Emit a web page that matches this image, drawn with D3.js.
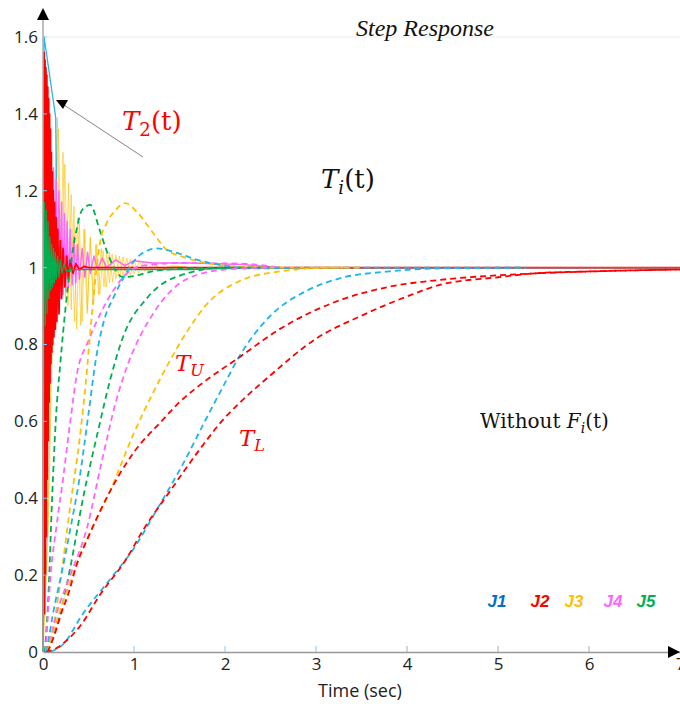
<!DOCTYPE html>
<meta charset="utf-8">
<style>
body{margin:0;background:#fff;}
svg text{font-family:"Open Sans","Liberation Sans",Arial,sans-serif;}
svg text.serif{font-family:"DejaVu Serif","Liberation Serif",serif;}
svg text.title{font-family:"Liberation Serif",serif;}
svg .legend text{font-family:"Liberation Sans",Arial,sans-serif;}
</style>
<svg id="chart" width="680" height="704"></svg>
<script src="https://d3js.org/d3.v7.min.js"></script>
<script>
// tick labels
const xTicks = [0, 1, 2, 3, 4, 5, 6, 7]
const yTicks = [0, 0.2, 0.4, 0.6, 0.8, 1, 1.2, 1.4, 1.6]
const legendNames = ['J1', 'J2', 'J3', 'J4', 'J5']
const legendColors = ['#0070c0', '#ff0000', '#ffc000', '#ff66ff', '#00b050']

// solid responses with F_i(t): [t, y] read at the peaks / troughs
const yellowSolidA = [[0,0],[0.05,0.3],[0.1,0.9],[0.16,1.39],[0.19,0.93],[0.22,1.30],[0.25,0.92],[0.28,1.22],[0.31,0.89],[0.34,1.16],[0.37,0.84],[0.40,1.12],[0.43,0.86],[0.46,1.10],[0.49,0.89],[0.52,1.08],[0.55,0.91],[0.58,1.06],[0.61,0.93],[0.64,1.05],[0.67,0.95],[0.70,1.04],[0.73,0.96],[0.76,1.035],[0.80,0.97],[0.84,1.03],[0.88,0.975],[0.92,1.025],[0.96,0.98],[1.00,1.02],[1.05,0.985],[1.10,1.015],[1.16,0.99],[1.22,1.01],[1.3,0.995],[1.4,1.005],[1.6,1.0],[7,1.0]]
const yellowSolidB = [[0,0],[0.06,0.35],[0.12,1.0],[0.17,1.36],[0.205,0.95],[0.24,1.27],[0.275,0.90],[0.31,1.19],[0.345,0.86],[0.38,1.13],[0.415,0.85],[0.45,1.10],[0.485,0.88],[0.52,1.075],[0.555,0.905],[0.59,1.06],[0.625,0.93],[0.66,1.045],[0.695,0.95],[0.73,1.04],[0.765,0.962],[0.80,1.033],[0.84,0.972],[0.88,1.028],[0.92,0.978],[0.96,1.022],[1.0,0.984],[1.06,1.016],[1.12,0.99],[1.2,1.01],[1.3,0.995],[1.45,1.004],[1.6,1.0],[7,1.0]]
const cyanSolid = [[0,0],[0.012,1.6],[0.14,1.39],[0.16,0.9],[0.18,1.15],[0.2,0.93],[0.23,1.06],[0.27,0.97],[0.32,1.02],[0.4,0.995],[0.5,1.0],[7,1.0]]
const magentaSolid = [[0,0],[0.035,0.9],[0.055,1.33],[0.07,0.9],[0.085,1.3],[0.1,0.88],[0.115,1.26],[0.13,0.9],[0.145,1.23],[0.16,0.91],[0.175,1.2],[0.19,0.92],[0.205,1.17],[0.22,0.93],[0.235,1.14],[0.25,0.94],[0.265,1.12],[0.28,0.95],[0.3,1.1],[0.32,0.955],[0.34,1.08],[0.36,0.96],[0.38,1.06],[0.40,0.97],[0.43,1.05],[0.46,0.975],[0.49,1.04],[0.52,0.985],[0.56,1.03],[0.6,0.995],[0.65,1.025],[0.7,1.0],[0.8,1.02],[0.9,1.005],[1.0,1.018],[1.2,1.012],[1.6,1.012],[2.2,1.008],[2.6,1.0],[7,1.0]]
const redSolid = [[0,0],[0.008,1.2],[0.012,1.56],[0.017,0.1],[0.022,1.54],[0.027,0.2],[0.032,1.52],[0.037,0.3],[0.042,1.5],[0.047,0.45],[0.052,1.47],[0.057,0.55],[0.062,1.44],[0.067,0.65],[0.072,1.4],[0.077,0.7],[0.082,1.36],[0.087,0.75],[0.092,1.3],[0.097,0.78],[0.102,1.25],[0.107,0.8],[0.112,1.2],[0.12,0.82],[0.128,1.17],[0.136,0.84],[0.144,1.13],[0.152,0.86],[0.162,1.1],[0.176,0.88],[0.19,1.07],[0.205,0.92],[0.22,1.05],[0.24,0.95],[0.26,1.03],[0.28,0.97],[0.30,1.02],[0.33,0.985],[0.36,1.01],[0.40,0.995],[0.45,1.003],[0.5,1.0],[7,1.0]]
const greenSolid = [[0,0],[0.008,0.9],[0.015,1.17],[0.025,0.85],[0.035,1.15],[0.045,0.88],[0.055,1.12],[0.065,0.92],[0.075,1.08],[0.085,0.94],[0.095,1.06],[0.105,0.95],[0.115,1.05],[0.125,0.96],[0.135,1.04],[0.145,0.97],[0.16,1.03],[0.175,0.975],[0.19,1.02],[0.21,0.985],[0.23,1.01],[0.26,0.99],[0.3,0.995],[1.6,0.995],[2.3,1.0],[7,1.0]]

// dashed responses without F_i(t)
const greenDashInner = [[0.02,0],[0.06,0.15],[0.1,0.4],[0.14,0.6],[0.19,0.75],[0.25,0.9],[0.3,1.0],[0.37,1.1],[0.43,1.15],[0.52,1.163],[0.62,1.1],[0.69,1.05],[0.78,1.0],[0.88,0.975],[1.0,0.978],[1.2,0.99],[1.5,0.997],[2.0,1.0],[2.6,1.0]]
const magentaDashInner = [[0.03,0],[0.08,0.19],[0.15,0.33],[0.22,0.45],[0.3,0.6],[0.37,0.72],[0.5,0.81],[0.63,0.88],[0.8,0.95],[0.92,0.985],[1.1,1.005],[1.5,1.012],[2.2,1.01],[2.6,1.0]]
const yellowDashInner = [[0.06,0],[0.14,0.1],[0.2,0.2],[0.3,0.38],[0.4,0.55],[0.47,0.7],[0.53,0.86],[0.58,0.98],[0.63,1.07],[0.70,1.116],[0.8,1.15],[0.9,1.168],[1.05,1.14],[1.21,1.09],[1.36,1.046],[1.54,1.028],[1.73,1.015],[2.0,1.005],[2.5,1.0],[3.3,1.0]]
const blueDashInner = [[0.04,0],[0.11,0.1],[0.2,0.2],[0.3,0.32],[0.4,0.45],[0.5,0.62],[0.58,0.76],[0.68,0.87],[0.77,0.92],[0.9,0.98],[1.05,1.03],[1.25,1.05],[1.45,1.04],[1.7,1.02],[2.0,1.005],[2.3,0.998],[3,1.0],[5.3,1.0]]
const greenDashOuter = [[0.05,0],[0.19,0.1],[0.3,0.22],[0.44,0.40],[0.6,0.57],[0.74,0.71],[0.88,0.82],[1.14,0.92],[1.58,0.985],[2.0,1.0],[2.4,1.0]]
const magentaDashOuter = [[0.05,0],[0.15,0.1],[0.3,0.2],[0.48,0.32],[0.65,0.5],[0.8,0.65],[0.92,0.74],[1.21,0.88],[1.58,0.97],[2.0,0.995],[2.5,1.0]]
const yellowDashOuter = [[0.05,0],[0.11,0.05],[0.25,0.15],[0.44,0.27],[0.74,0.42],[1.0,0.57],[1.2,0.67],[1.4,0.76],[1.6,0.84],[1.8,0.905],[2.16,0.965],[2.6,0.99],[3.2,1.0],[3.5,1.0]]
const blueDashOuter = [[0.08,0],[0.22,0.02],[0.44,0.1],[0.74,0.19],[1.0,0.27],[1.25,0.37],[1.54,0.49],[1.8,0.61],[2.0,0.70],[2.16,0.77],[2.5,0.875],[2.9,0.94],[3.26,0.972],[3.8,0.99],[4.36,0.998],[5.3,1.0]]
const redDashUpper = [[0.05,0],[0.12,0.04],[0.2,0.1],[0.29,0.16],[0.36,0.22],[0.5,0.3],[0.74,0.42],[1.0,0.52],[1.3,0.6],[1.5,0.65],[1.8,0.708],[2.16,0.767],[2.6,0.84],[3.0,0.89],[3.26,0.915],[3.8,0.95],[4.36,0.968],[5.0,0.98],[5.5,0.986],[6,0.99],[6.5,0.993],[7,0.995]]
const redDashLower = [[0.03,0],[0.15,0.01],[0.26,0.03],[0.4,0.065],[0.63,0.15],[0.91,0.24],[1.1,0.317],[1.4,0.42],[1.7,0.52],[2.0,0.61],[2.16,0.648],[2.5,0.72],[3.0,0.815],[3.5,0.875],[4.0,0.925],[4.36,0.955],[5.0,0.975],[5.46,0.986],[6.0,0.99],[6.5,0.993],[7,0.995]]

const svg = d3.select('#chart')
const x = d3.scaleLinear().domain([0, 7]).range([43, 680])
const y = d3.scaleLinear().domain([0, 1.6]).range([652, 37])
const line = d3.line().x(d => x(d[0])).y(d => y(d[1]))
const smooth = d3.line().x(d => x(d[0])).y(d => y(d[1])).curve(d3.curveMonotoneX)

// faint top grid line
svg.append('line').attr('x1', 43).attr('x2', 680).attr('y1', y(1.6)).attr('y2', y(1.6))
  .attr('stroke', '#eee').attr('stroke-width', 1)

const curves = [
  {d: yellowSolidA, c: '#ffc000', w: 0.6},
  {d: yellowSolidB, c: '#ffc000', w: 0.6},
  {d: cyanSolid, c: '#2ab4ea', w: 1.3},
  {d: magentaSolid, c: '#ff66ff', w: 1.5},
  {d: redSolid, c: '#ff0000', w: 1.8},
  {d: greenSolid, c: '#00b050', w: 1.2},
  {d: greenDashInner, c: '#00b050', w: 1.8, dash: true},
  {d: magentaDashInner, c: '#ff66ff', w: 1.8, dash: true},
  {d: yellowDashInner, c: '#ffc000', w: 1.8, dash: true},
  {d: blueDashInner, c: '#1fb4ea', w: 1.8, dash: true},
  {d: greenDashOuter, c: '#00b050', w: 1.8, dash: true},
  {d: magentaDashOuter, c: '#ff66ff', w: 1.8, dash: true},
  {d: yellowDashOuter, c: '#ffc000', w: 1.8, dash: true},
  {d: blueDashOuter, c: '#1fb4ea', w: 1.8, dash: true},
  {d: redDashUpper, c: '#ff0000', w: 1.8, dash: true},
  {d: redDashLower, c: '#ff0000', w: 1.8, dash: true}
]

svg.append('g').selectAll('path').data(curves).join('path')
  .attr('d', c => c.dash ? smooth(c.d) : line(c.d))
  .attr('fill', 'none')
  .attr('stroke', c => c.c)
  .attr('stroke-width', c => c.w)
  .attr('stroke-linejoin', 'round')
  .attr('stroke-dasharray', c => c.dash ? '6,4' : null)

// axes
const fmt = d3.format('~g')
const xAxis = svg.append('g').attr('transform', 'translate(0,652)')
  .call(d3.axisBottom(x).tickValues(xTicks).tickFormat(fmt).tickSize(0).tickPadding(6))
xAxis.select('.domain').attr('stroke', '#999').attr('stroke-width', 1.5)
xAxis.selectAll('text').attr('font-size', 17).attr('fill', '#222')
svg.append('g').selectAll('line').data(xTicks.slice(1, 7)).join('line')
  .attr('x1', d => x(d)).attr('x2', d => x(d)).attr('y1', 652).attr('y2', 646)
  .attr('stroke', (d, i) => i < 3 ? '#7fcdee' : '#aaa')

svg.append('line').attr('x1', 43).attr('x2', 43).attr('y1', 652).attr('y2', 18)
  .attr('stroke', '#aaa').attr('stroke-width', 1.5)
const yAxis = svg.append('g').attr('transform', 'translate(43,0)')
  .call(d3.axisLeft(y).tickValues(yTicks).tickFormat(fmt).tickSize(0).tickPadding(5))
yAxis.select('.domain').remove()
yAxis.selectAll('text').attr('font-size', 17).attr('fill', '#222')
svg.append('g').selectAll('line').data(yTicks.slice(1)).join('line')
  .attr('x1', 43).attr('x2', 47).attr('y1', d => y(d)).attr('y2', d => y(d))
  .attr('stroke', '#7fcdee')

// arrow heads on the axes
svg.append('path').attr('d', 'M37,20 L49,20 L43,8 Z').attr('fill', '#000')
svg.append('path').attr('d', 'M668,646 L668,658 L680,652 Z').attr('fill', '#000')

svg.append('text').attr('x', 360).attr('y', 697).attr('text-anchor', 'middle')
  .attr('font-size', 18).attr('fill', '#222').text('Time (sec)')

// pointer to T2(t)
svg.append('line').attr('x1', 143).attr('y1', 157).attr('x2', 64).attr('y2', 105)
  .attr('stroke', '#666').attr('stroke-width', 0.8)
svg.append('path').attr('d', 'M56,100 L68,100 L63,109 Z').attr('fill', '#000')

// annotations
svg.append('text').attr('class', 'title').attr('x', 425).attr('y', 36).attr('text-anchor', 'middle')
  .attr('font-size', 24).attr('font-style', 'italic').attr('fill', '#111').text('Step Response')

function mathLabel(px, py, main, sub, tail, color, size) {
  const t = svg.append('text').attr('class', 'serif').attr('x', px).attr('y', py)
    .attr('font-size', size).attr('fill', color)
  t.append('tspan').attr('font-style', 'italic').text(main)
  t.append('tspan').attr('font-size', size * 0.7).attr('dy', size * 0.22)
    .attr('font-style', /\d/.test(sub) ? 'normal' : 'italic').text(sub)
  if (tail) t.append('tspan').attr('dy', -size * 0.22).text(tail)
  return t
}
mathLabel(122, 130, 'T', '2', '(t)', '#ff0000', 26)
mathLabel(321, 188, 'T', 'i', '(t)', '#111', 26)
mathLabel(175, 371, 'T', 'U', null, '#ff0000', 23)
mathLabel(239, 446, 'T', 'L', null, '#ff0000', 23)

const wo = svg.append('text').attr('class', 'serif').attr('x', 480).attr('y', 428)
  .attr('font-size', 20).attr('fill', '#111')
wo.append('tspan').text('Without ')
wo.append('tspan').attr('font-style', 'italic').text('F')
wo.append('tspan').attr('font-style', 'italic').attr('font-size', 14).attr('dy', 5).text('i')
wo.append('tspan').attr('dy', -5).text('(t)')

// legend
const legendX = [497, 540, 574, 613, 646]
svg.append('g').attr('class', 'legend').selectAll('text').data(legendNames).join('text')
  .attr('x', (d, i) => legendX[i]).attr('y', 607).attr('text-anchor', 'middle')
  .attr('font-size', 17).attr('font-weight', 'bold').attr('font-style', 'italic')
  .attr('fill', (d, i) => legendColors[i]).text(d => d)
</script>
